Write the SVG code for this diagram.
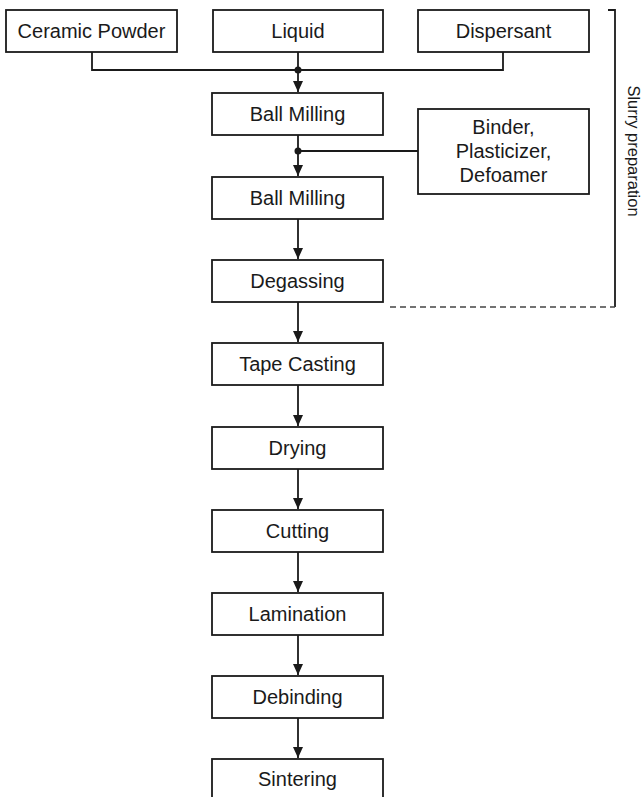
<svg xmlns="http://www.w3.org/2000/svg" width="644" height="797" viewBox="0 0 644 797">
<defs>
<style>
.box{fill:#fff;stroke:#1a1a1a;stroke-width:1.8}
.t{font-family:"Liberation Sans",Arial,sans-serif;font-size:20px;fill:#1a1a1a;text-anchor:middle}
.c{fill:none;stroke:#1a1a1a;stroke-width:1.8}
.dash{fill:none;stroke:#444;stroke-width:1.3;stroke-dasharray:6 4}
</style>
<marker id="arr" markerUnits="userSpaceOnUse" markerWidth="12" markerHeight="12" viewBox="0 0 12 12" refX="11" refY="6" orient="auto">
<path d="M0,1 L11,6 L0,11 Z" fill="#1a1a1a"/>
</marker>
</defs>
<rect width="644" height="797" fill="#fff"/>
<g id="connectors">
<path class="c" d="M92,52 V70 H503 V52"/>
<path class="c" d="M298,52 V92" marker-end="url(#arr)"/>
<circle cx="298" cy="70" r="3.5" fill="#1a1a1a"/>
<path class="c" d="M298,135 V176" marker-end="url(#arr)"/>
<path class="c" d="M418,151 H298"/>
<circle cx="298" cy="151" r="3.5" fill="#1a1a1a"/>
<path class="c" d="M298,219 V259" marker-end="url(#arr)"/>
<path class="c" d="M298,302 V342" marker-end="url(#arr)"/>
<path class="c" d="M298,385 V426" marker-end="url(#arr)"/>
<path class="c" d="M298,469 V509" marker-end="url(#arr)"/>
<path class="c" d="M298,552 V592" marker-end="url(#arr)"/>
<path class="c" d="M298,635 V675" marker-end="url(#arr)"/>
<path class="c" d="M298,718 V758" marker-end="url(#arr)"/>
</g>
<g id="bracket">
<path class="c" d="M608,10 H615 V307"/>
<path class="dash" d="M390,307 H615"/>
<text transform="translate(628,151) rotate(90)" style="font-family:'Liberation Sans',Arial,sans-serif;font-size:16.5px;fill:#1a1a1a;text-anchor:middle">Slurry preparation</text>
</g>
<g id="ceramic"><rect class="box" x="6" y="10" width="171" height="42"/><text class="t" x="91.5" y="38">Ceramic Powder</text></g>
<g id="liquid"><rect class="box" x="213" y="10" width="170" height="42"/><text class="t" x="298" y="38">Liquid</text></g>
<g id="dispersant"><rect class="box" x="418" y="10" width="171" height="42"/><text class="t" x="503.5" y="38">Dispersant</text></g>
<g id="ballmilling1"><rect class="box" x="212" y="93" width="171" height="42"/><text class="t" x="297.5" y="121">Ball Milling</text></g>
<g id="binder"><rect class="box" x="418" y="109" width="171" height="85"/><text class="t" x="503.5" y="134">Binder,</text><text class="t" x="503.5" y="158">Plasticizer,</text><text class="t" x="503.5" y="182">Defoamer</text></g>
<g id="ballmilling2"><rect class="box" x="212" y="177" width="171" height="42"/><text class="t" x="297.5" y="205">Ball Milling</text></g>
<g id="degassing"><rect class="box" x="212" y="260" width="171" height="42"/><text class="t" x="297.5" y="288">Degassing</text></g>
<g id="tapecasting"><rect class="box" x="212" y="343" width="171" height="42"/><text class="t" x="297.5" y="371">Tape Casting</text></g>
<g id="drying"><rect class="box" x="212" y="427" width="171" height="42"/><text class="t" x="297.5" y="455">Drying</text></g>
<g id="cutting"><rect class="box" x="212" y="510" width="171" height="42"/><text class="t" x="297.5" y="538">Cutting</text></g>
<g id="lamination"><rect class="box" x="212" y="593" width="171" height="42"/><text class="t" x="297.5" y="621">Lamination</text></g>
<g id="debinding"><rect class="box" x="212" y="676" width="171" height="42"/><text class="t" x="297.5" y="704">Debinding</text></g>
<g id="sintering"><rect class="box" x="212" y="759" width="171" height="42"/><text class="t" x="297.5" y="786">Sintering</text></g>
</svg>
